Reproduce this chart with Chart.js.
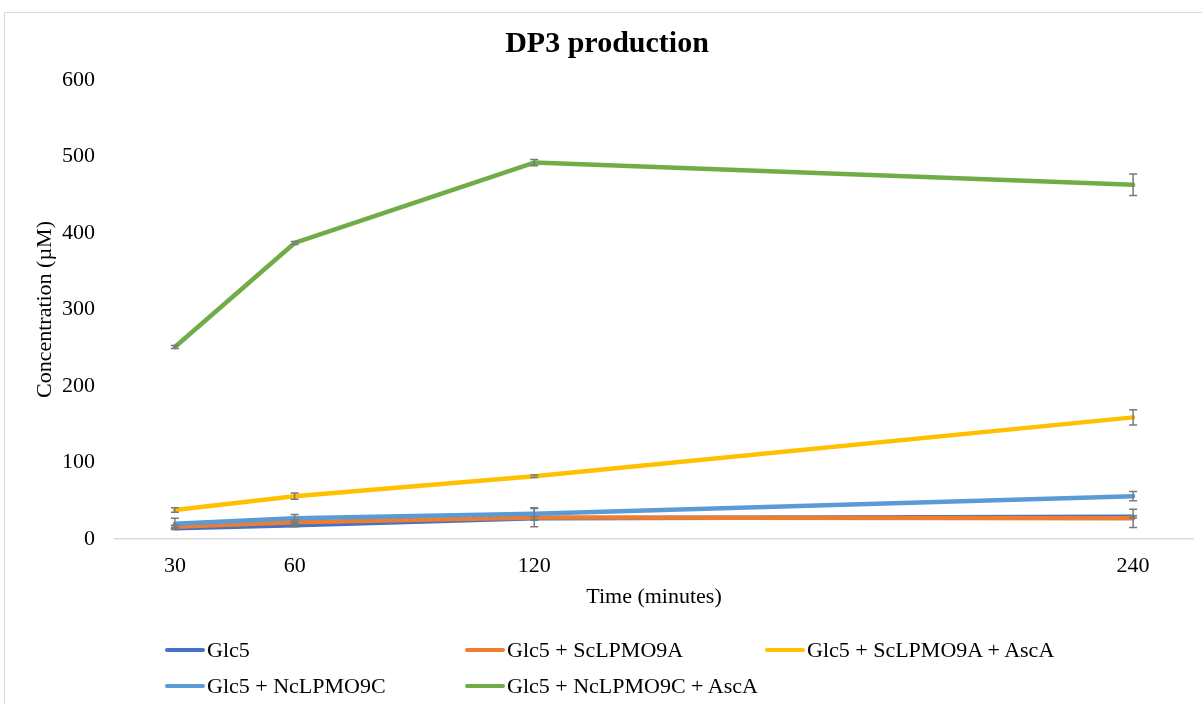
<!DOCTYPE html>
<html>
<head>
<meta charset="utf-8">
<script src="https://cdn.jsdelivr.net/npm/chart.js@4.4.1/dist/chart.umd.min.js"></script>
<style>
  html, body { margin: 0; padding: 0; background: #fff; }
  #wrap { position: relative; width: 1202px; height: 704px; overflow: hidden; background: #fff; }
  #frame { position: absolute; left: 4px; top: 12px; width: 1230px; height: 730px;
           border: 1px solid #d9d9d9; box-sizing: border-box; }
  #c { position: absolute; left: 0; top: 0; }
  #legend { position: absolute; left: 0; top: 0; width: 1202px; height: 704px;
            font-family: "Liberation Serif", "Times New Roman", serif; font-size: 22px; color: #000; }
  .item { position: absolute; height: 24px; line-height: 24px; display: flex; align-items: center; white-space: nowrap; }
  .swatch { display: inline-block; width: 40px; height: 4px; border-radius: 2px; margin-right: 2px; }
</style>
</head>
<body>
<div id="wrap">
  <div id="frame"></div>
  <canvas id="c" width="1202" height="704"></canvas>
  <div id="legend"></div>
</div>
<script>
// Sampling times (minutes) and the axis slots they occupy
const timePoints = [30, 60, 120, 240];
const axisLabels = ['30', '60', '', '120', '', '', '', '', '240'];

// Series names and colours
const seriesNames = [
  'Glc5',
  'Glc5 + ScLPMO9A',
  'Glc5 + ScLPMO9A + AscA',
  'Glc5 + NcLPMO9C',
  'Glc5 + NcLPMO9C + AscA'
];
const seriesColors = ['#4472C4', '#ED7D31', '#FFC000', '#5B9BD5', '#70AD47'];

// DP3 concentration (µM) at each time point
const glc5            = [14, 18, 27, 29];
const glc5Sc          = [16, 22, 28, 27];
const glc5ScAsc       = [38, 56, 82, 159];
const glc5Nc          = [20, 27, 33, 56];
const glc5NcAsc       = [251, 387, 492, 463];

// Standard deviations (µM)
const glc5Err         = [1.5, 2, 2, 1.5];
const glc5ScErr       = [2, 3, 12, 12];
const glc5ScAscErr    = [3, 4, 1.5, 10];
const glc5NcErr       = [7, 5, 8, 6];
const glc5NcAscErr    = [2, 2, 4, 14];

const yTicks = [0, 100, 200, 300, 400, 500, 600];

const seriesValues = [glc5, glc5Sc, glc5ScAsc, glc5Nc, glc5NcAsc];
const seriesErrors = [glc5Err, glc5ScErr, glc5ScAscErr, glc5NcErr, glc5NcAscErr];

const FONT = '"Liberation Serif", "Times New Roman", serif';

const datasets = seriesNames.map((name, i) => ({
  label: name,
  data: timePoints.map((t, j) => ({ x: String(t), y: seriesValues[i][j] })),
  borderColor: seriesColors[i],
  backgroundColor: seriesColors[i],
  borderWidth: 4.5,
  borderCapStyle: 'round',
  borderJoinStyle: 'round',
  pointRadius: 0,
  tension: 0,
  order: seriesNames.length - i
}));

// Vertical error bars with caps, drawn after each line
const errorBars = {
  id: 'errorBars',
  afterDatasetsDraw(chart) {
    const { ctx } = chart;
    const yScale = chart.scales.y;
    ctx.save();
    ctx.strokeStyle = '#7a7a7a';
    ctx.lineWidth = 1.5;
    chart.data.datasets.forEach((ds, di) => {
      const meta = chart.getDatasetMeta(di);
      meta.data.forEach((pt, j) => {
        const v = seriesValues[di][j];
        const e = seriesErrors[di][j];
        const top = yScale.getPixelForValue(v + e);
        const bot = yScale.getPixelForValue(v - e);
        const x = pt.x;
        ctx.beginPath();
        ctx.moveTo(x, top); ctx.lineTo(x, bot);
        ctx.moveTo(x - 4, top); ctx.lineTo(x + 4, top);
        ctx.moveTo(x - 4, bot); ctx.lineTo(x + 4, bot);
        ctx.stroke();
      });
    });
    ctx.restore();
  }
};

new Chart(document.getElementById('c'), {
  type: 'line',
  data: { labels: axisLabels, datasets },
  plugins: [errorBars],
  options: {
    responsive: false,
    animation: false,
    layout: { padding: { top: 0, left: 21, right: 9, bottom: 94 } },
    plugins: {
      legend: { display: false },
      tooltip: { enabled: false },
      title: {
        display: true,
        text: 'DP3 production',
        color: '#000',
        font: { family: FONT, size: 30, weight: 'bold' },
        padding: { top: 26, bottom: 18 }
      }
    },
    scales: {
      x: {
        type: 'category',
        offset: true,
        grid: { display: false, drawTicks: false },
        border: { display: true, color: '#d9d9d9', width: 1.5 },
        ticks: { color: '#000', font: { family: FONT, size: 22 }, padding: 14,
                 autoSkip: false, maxRotation: 0 },
        title: { display: true, text: 'Time (minutes)', color: '#000',
                 font: { family: FONT, size: 22 }, padding: { top: 0, bottom: 0 } },
        afterFit(s) { s.height = 71; }
      },
      y: {
        min: 0, max: 600,
        grid: { display: false, drawTicks: false },
        border: { display: false },
        afterBuildTicks(s) { s.ticks = yTicks.map(v => ({ value: v })); },
        ticks: { color: '#000', font: { family: FONT, size: 22 }, padding: 20 },
        title: { display: true, text: 'Concentration (µM)', color: '#000',
                 font: { family: FONT, size: 22 }, padding: { top: 11, bottom: 0 } },
        afterFit(s) { s.width = 94; }
      }
    }
  }
});

// Legend laid out in three columns, two rows
const legend = document.getElementById('legend');
const colX = [165, 465, 765];
const rowY = [638, 674];
seriesNames.forEach((name, i) => {
  const item = document.createElement('div');
  item.className = 'item';
  item.style.left = colX[i % 3] + 'px';
  item.style.top = rowY[Math.floor(i / 3)] + 'px';
  const sw = document.createElement('span');
  sw.className = 'swatch';
  sw.style.background = seriesColors[i];
  const txt = document.createElement('span');
  txt.textContent = name;
  item.appendChild(sw);
  item.appendChild(txt);
  legend.appendChild(item);
});
</script>
</body>
</html>
